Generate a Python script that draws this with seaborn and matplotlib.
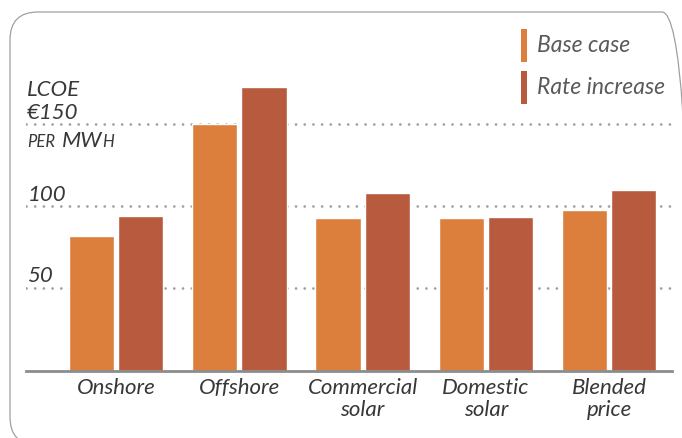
import matplotlib
matplotlib.use('Agg')
import matplotlib.pyplot as plt
import matplotlib.transforms as mtransforms
from matplotlib.patches import FancyBboxPatch, Rectangle
import pandas as pd
import seaborn as sns

# Chart data (LCOE, euro per MWh)
categories = ['Onshore', 'Offshore', 'Commercial\nsolar', 'Domestic\nsolar', 'Blended\nprice']
base_case = [82, 150, 93, 93, 98]
rate_increase = [94, 173, 108, 93.5, 110]
series_names = ['Base case', 'Rate increase']
colors = ['#DC7F3C', '#B85A3E']
grid_values = [50, 100, 150]

df = pd.DataFrame({
    'tech': categories * 2,
    'lcoe': base_case + rate_increase,
    'case': [series_names[0]] * len(categories) + [series_names[1]] * len(categories),
})

sns.set_style('white')
plt.rcParams['font.family'] = ['Lato', 'DejaVu Sans']

fig = plt.figure(figsize=(6.82, 4.38), dpi=100)
ax = fig.add_axes([26 / 682, 67.5 / 438, 646 / 682, 340.5 / 438])

sns.barplot(data=df, x='tech', y='lcoe', hue='case', palette=colors,
            saturation=1, width=0.8, gap=0.08, legend=False, ax=ax, zorder=2)

ax.set_xlim(-0.73, 4.51)
ax.set_ylim(0, 207.6)
ax.set_xlabel('')
ax.set_ylabel('')
ax.set_yticks([])
for s in ['top', 'left', 'right']:
    ax.spines[s].set_visible(False)
ax.spines['bottom'].set_color('#8c8c8c')
ax.spines['bottom'].set_linewidth(2)
ax.spines['bottom'].set_zorder(3)
ax.tick_params(axis='x', length=0, pad=5.5)
for lab in ax.get_xticklabels():
    lab.set_fontsize(16)
    lab.set_fontstyle('italic')
    lab.set_color('#383838')
    lab.set_linespacing(1.1)

# dotted gridlines
for g in grid_values:
    ax.axhline(g, color='#a0a0a0', linewidth=2, linestyle=(0, (0.01, 3.12)),
               dash_capstyle='round', zorder=0.5)

# value labels on the left
trans = mtransforms.blended_transform_factory(ax.transAxes, ax.transData)
txt_color = '#383838'
lab_kw = dict(transform=trans, fontsize=16, fontstyle='italic',
              color=txt_color, va='baseline', ha='left')
ax.text(0.002, 53.7, '50', **lab_kw)
ax.text(0.002, 103.5, '100', **lab_kw)
ax.text(0.002, 153.1, '€150', **lab_kw)
ax.text(0.002, 167.2, 'LCOE', **lab_kw)
t1 = ax.text(0.002, 136, 'PER', transform=trans, fontsize=12, fontstyle='italic',
             color=txt_color, va='baseline', ha='left')
t2 = ax.annotate('MW', xy=(1, 136), xycoords=(t1, 'data'), fontsize=16,
                 xytext=(4.5, 0), textcoords='offset points',
                 fontstyle='italic', color=txt_color, va='baseline', ha='left')
ax.annotate('H', xy=(1, 136), xycoords=(t2, 'data'), fontsize=12,
            xytext=(0.3, 0), textcoords='offset points',
            fontstyle='italic', color=txt_color, va='baseline', ha='left')

# legend drawn by hand in pixel space
ident = mtransforms.IdentityTransform()
leg_y = [29, 71]
for name, c, y in zip(series_names, colors, leg_y):
    fig.patches.append(Rectangle((521, 438 - y - 33), 6, 33, transform=ident,
                                 facecolor=c, edgecolor='none', figure=fig))
    fig.text(537 / 682, 1 - (y + 16) / 438, name, fontsize=16.5, fontstyle='italic',
             color='#5a5a5a', va='center', ha='left')

# rounded frame
frame = FancyBboxPatch((10, -7), 680, 433, boxstyle='round,pad=0,rounding_size=28',
                       transform=ident, facecolor='none', edgecolor='#a0a0a0',
                       linewidth=0.9, figure=fig)
fig.patches.append(frame)

fig.savefig('out.png', dpi=100)
